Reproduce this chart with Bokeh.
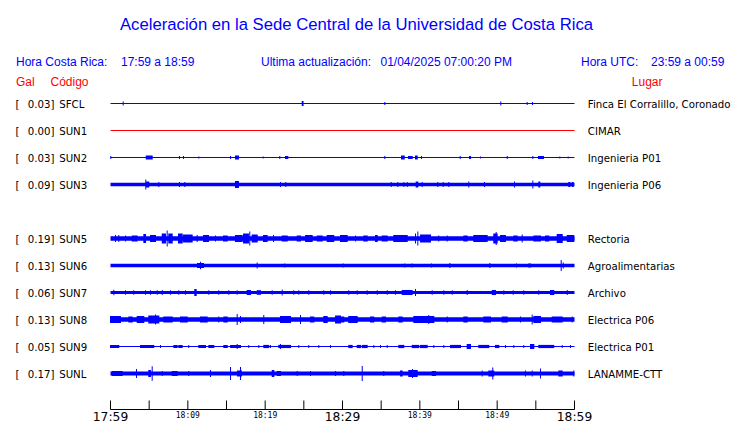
from bokeh.plotting import figure
from bokeh.models import Range1d, ColumnDataSource
from bokeh.core.properties import value
from bokeh.embed import file_html
from bokeh.resources import INLINE

# ---------------- data ----------------
TITLE = "Aceleración en la Sede Central de la Universidad de Costa Rica"
LOCAL_LABEL = "Hora Costa Rica:"
LOCAL_RANGE = "17:59 a 18:59"
UPDATE_LABEL = "Ultima actualización:"
UPDATE_TIME = "01/04/2025 07:00:20 PM"
UTC_LABEL = "Hora UTC:"
UTC_RANGE = "23:59 a 00:59"
HDR_GAL, HDR_CODE, HDR_PLACE = "Gal", "Código", "Lugar"

# row slots (empty string = unused slot)
CODES = ["SFCL", "SUN1", "SUN2", "SUN3", "", "SUN5", "SUN6", "SUN7", "SUN8", "SUN9", "SUNL"]
PEAK_GAL = [0.03, 0.00, 0.03, 0.09, None, 0.19, 0.13, 0.06, 0.13, 0.05, 0.17]
PLACES = ["Finca El Corralillo, Coronado", "CIMAR", "Ingenieria P01", "Ingenieria P06", "",
          "Rectoria", "Agroalimentarias", "Archivo", "Electrica P06", "Electrica P01", "LANAMME-CTT"]
TRACE_COLORS = ["blue", "red", "blue", "blue", None, "blue", "blue", "blue", "blue", "blue", "blue"]
# background trace half-amplitude (display units)
BASE_AMP = [0.5, 0.5, 0.5, 1.7, None, 2.3, 1.7, 1.6, 2.3, 0.6, 1.9]

# bursts: (start minute, end minute, half amplitude)
B_SFCL = [(1.64, 1.64, 2), (24.79, 24.9, 2.5), (35.47, 35.47, 1.5), (50.47, 50.47, 2),
          (53.88, 53.88, 1.5), (54.57, 54.57, 1.5)]
B_SUN1 = []
B_SUN2 = [(0.04, 0.04, 1.5), (4.62, 5.39, 2), (8.92, 8.92, 1.5), (9.44, 9.44, 1.5), (11.42, 11.42, 1),
          (15.52, 15.52, 1.5), (16.16, 16.55, 2), (19.74, 19.74, 1), (21.89, 21.89, 1.5),
          (22.63, 22.93, 1.5), (35.47, 35.47, 1.5), (37.63, 37.98, 2), (38.53, 39.01, 1.5),
          (39.44, 39.66, 2), (40.22, 40.22, 1.5), (45.22, 45.22, 1.5), (46.42, 46.55, 1.5),
          (47.84, 47.84, 1), (51.3, 51.3, 1.5), (54.61, 54.61, 1.5), (55.34, 55.99, 1.5),
          (58.1, 58.1, 1), (59.18, 59.18, 1)]
B_SUN3 = [(4.56, 4.56, 5), (4.66, 4.95, 3), (6.25, 6.25, 2.5), (8.92, 8.92, 2.5), (9.61, 9.61, 2.5),
          (16.16, 16.55, 3.5), (21.98, 21.98, 2.5), (22.67, 22.67, 2.5), (36.3, 36.3, 2.5),
          (37.15, 37.15, 2.5), (37.93, 37.93, 2.5), (38.37, 38.37, 2.5), (39.53, 39.74, 3),
          (40.31, 40.31, 2.5), (42.32, 42.32, 2.5), (43.02, 43.02, 2.5), (43.75, 43.75, 2.5),
          (46.33, 46.33, 3), (48.36, 48.36, 2.5), (52.24, 52.24, 3), (54.61, 54.61, 4),
          (55.38, 55.51, 3), (59.26, 59.4, 2.5), (59.7, 59.83, 2.5)]
B_SUN5 = [(0.65, 0.65, 3.5), (1.07, 1.07, 3.5), (1.94, 1.94, 3), (2.81, 3.45, 3), (4.31, 4.53, 4.5),
          (5.17, 5.82, 3.5), (6.69, 7.11, 5), (7.33, 7.33, 8), (7.54, 7.98, 5), (8.79, 9.27, 5),
          (9.44, 10.56, 4), (11.21, 11.21, 3.5), (12.03, 12.67, 3.5), (13.58, 13.58, 3),
          (14.61, 15.09, 3), (16.16, 17.03, 3.5), (17.2, 17.84, 5), (18.01, 18.01, 7),
          (18.32, 18.97, 4), (19.78, 20.26, 3.5), (21.08, 21.08, 3.5), (22.2, 22.85, 3),
          (24.14, 24.57, 3), (25.22, 26.08, 3.5), (26.73, 27.38, 3), (28.02, 28.87, 3.5),
          (29.74, 30.61, 3.5), (31.68, 31.68, 3), (32.75, 33.2, 3), (34.27, 34.49, 3.5),
          (35.13, 35.78, 3), (36.63, 38.37, 3.5), (39.44, 39.44, 5), (39.74, 39.74, 7),
          (40.09, 41.38, 4), (42.45, 42.45, 3), (43.54, 43.54, 3), (45.69, 46.12, 3),
          (46.98, 48.71, 3.5), (49.56, 50.0, 5), (49.87, 49.87, 6.5), (50.43, 51.08, 3.5),
          (52.15, 52.59, 3), (53.24, 53.24, 4), (54.74, 55.6, 3), (56.25, 56.68, 3),
          (57.76, 58.41, 4.5), (59.06, 59.91, 3.5)]
B_SUN6 = [(11.25, 12.03, 2.5), (11.64, 11.64, 3.7), (18.97, 18.97, 3), (22.54, 22.54, 2),
          (30.09, 30.09, 2), (38.06, 38.06, 2), (39.01, 39.01, 2), (41.51, 41.51, 2),
          (43.88, 43.88, 2.5), (49.05, 49.05, 2.5), (52.5, 52.5, 2), (54.09, 54.31, 2),
          (58.28, 58.28, 5.5), (58.54, 58.54, 3)]
B_SUN7 = [(0.43, 0.43, 2.8), (1.94, 1.94, 2.3), (3.01, 3.01, 2.3), (4.53, 4.53, 2.3), (5.17, 5.17, 2.3),
          (6.04, 6.04, 2.3), (6.69, 6.69, 2.5), (7.76, 7.76, 2.3), (8.83, 8.83, 2.3), (9.7, 9.7, 2.3),
          (10.9, 11.08, 3.5), (12.71, 12.71, 2.3), (14.0, 14.0, 2.3), (15.3, 15.3, 2.3),
          (16.38, 16.38, 2.3), (17.68, 18.1, 2.5), (18.97, 19.4, 2.3), (20.91, 20.91, 2.3),
          (22.2, 22.2, 3), (23.7, 23.7, 2.3), (24.35, 24.35, 2.3), (25.64, 25.64, 2.3),
          (27.58, 27.58, 2.3), (28.45, 28.45, 2.3), (30.81, 30.81, 2.3), (31.9, 31.9, 2.3),
          (33.19, 33.19, 2.3), (34.49, 34.49, 2.3), (35.78, 35.78, 2.3), (36.85, 36.85, 2.3),
          (37.72, 39.01, 2.5), (39.44, 39.44, 3.5), (41.6, 41.6, 2.3), (43.1, 43.1, 2.3),
          (44.19, 44.19, 2.3), (46.12, 46.12, 2.5), (49.36, 49.78, 2.5), (50.86, 50.86, 2.3),
          (52.07, 52.07, 2.3), (53.44, 53.44, 2.3), (55.38, 55.38, 2.3), (56.9, 57.32, 2.5),
          (59.06, 59.06, 2.5)]
B_SUN8 = [(0.0, 1.29, 3.5), (2.37, 2.81, 3), (3.45, 4.31, 3.5), (4.95, 6.25, 4), (5.82, 5.82, 5),
          (6.89, 7.98, 3), (9.05, 9.92, 3), (11.64, 12.5, 3), (14.0, 14.0, 3), (14.65, 15.09, 3),
          (16.38, 16.38, 5.5), (16.81, 16.81, 3.5), (19.82, 19.82, 4.5), (21.98, 23.28, 3.5),
          (24.57, 24.57, 4.5), (25.86, 26.29, 3), (27.58, 28.02, 3.5), (29.1, 29.74, 4),
          (29.74, 30.17, 3), (30.81, 31.9, 3.5), (33.62, 34.05, 3), (35.13, 35.56, 3),
          (37.28, 37.72, 3), (39.22, 41.81, 3.5), (41.16, 41.16, 4.5), (43.54, 43.54, 3),
          (45.69, 46.12, 3), (48.27, 49.14, 3), (50.65, 51.3, 3), (53.02, 53.02, 3),
          (54.53, 54.53, 5), (54.74, 55.6, 3.5), (57.12, 58.41, 3), (59.7, 59.7, 3)]
B_SUN9 = [(0.0, 1.07, 1.6), (3.88, 5.6, 1.6), (6.47, 6.47, 1.6), (8.19, 8.62, 1.6), (8.83, 9.27, 1.6),
          (10.12, 10.12, 1.6), (11.42, 12.28, 1.6), (12.71, 13.36, 1.6), (14.65, 15.09, 1.6),
          (15.52, 16.81, 1.6), (16.38, 16.38, 2.5), (17.88, 17.88, 1.6), (19.18, 19.18, 1.6),
          (19.82, 20.47, 1.6), (20.69, 20.69, 1.6), (21.76, 23.28, 1.6), (21.98, 21.98, 2.5),
          (24.35, 24.35, 1.6), (25.64, 25.64, 1.6), (26.94, 26.94, 1.6), (28.45, 28.45, 1.6),
          (30.81, 31.25, 1.6), (31.9, 32.33, 1.6), (32.55, 33.19, 1.6), (34.05, 34.05, 1.6),
          (34.91, 34.91, 1.6), (35.78, 35.78, 1.6), (37.28, 37.93, 1.6), (39.01, 39.87, 1.6),
          (40.09, 40.95, 1.6), (41.81, 41.81, 1.6), (43.1, 43.1, 1.6), (43.97, 45.26, 1.6),
          (46.12, 46.55, 2.5), (47.62, 48.92, 1.6), (49.78, 50.22, 1.6), (51.08, 51.08, 1.6),
          (52.15, 52.15, 1.6), (53.44, 53.44, 1.6), (54.31, 54.74, 2.5), (55.38, 57.32, 1.6),
          (58.41, 58.41, 1.6), (59.48, 59.48, 1.6)]
B_SUNL = [(0.22, 1.51, 2.5), (3.36, 3.36, 4.5), (4.95, 5.17, 3.5), (5.39, 5.39, 7.3), (6.69, 6.69, 2.5),
          (7.98, 8.62, 2.5), (10.12, 10.12, 2.5), (12.93, 12.93, 3.5), (15.52, 15.52, 6.5),
          (16.42, 16.94, 3), (16.81, 16.81, 6.5), (20.91, 21.12, 3.5), (21.56, 21.98, 2.5),
          (24.14, 24.14, 2.5), (25.86, 25.86, 2.5), (29.1, 29.1, 2.5), (30.17, 30.17, 2.5),
          (32.55, 32.55, 7.5), (35.34, 35.34, 2.5), (37.5, 37.72, 3), (38.57, 39.66, 3.5),
          (39.05, 39.05, 4.5), (41.6, 42.03, 2.5), (48.06, 48.06, 3), (48.92, 49.56, 3),
          (49.43, 49.43, 6), (53.66, 53.66, 3), (54.53, 54.53, 3), (55.6, 55.6, 5),
          (57.97, 58.41, 3), (59.91, 59.91, 3)]
BURSTS = [B_SFCL, B_SUN1, B_SUN2, B_SUN3, None, B_SUN5, B_SUN6, B_SUN7, B_SUN8, B_SUN9, B_SUNL]

SPAN_MIN = 60
TICK_MIN = [0, 5, 10, 15, 20, 25, 30, 35, 40, 45, 50, 55, 60]
MAJOR_TICK_MIN = [0, 30, 60]
MAJOR_TICK_LABELS = ["17:59", "18:29", "18:59"]
MINOR_TICK_MIN = [10, 20, 40, 50]
MINOR_TICK_LABELS = ["18:09", "18:19", "18:39", "18:49"]

# ---------------- layout ----------------
W, H = 740, 423
PLOT_LEFT, PLOT_RIGHT = 110, 574          # page px of minute 0 / minute 60
PXM = (PLOT_RIGHT - PLOT_LEFT) / SPAN_MIN
BASE_FIX = 0.3                            # baseline correction (fraction of font size)


def xm(px):  # page x pixel -> minutes (for text placement)
    return (px - PLOT_LEFT) / PXM


def yb(baseline, size):  # wanted baseline -> text y
    return baseline - BASE_FIX * size


ROW0, ROW_STEP = 103, 27
AXIS_Y, TICK_LEN = 409, 9

p = figure(width=W, height=H, output_backend="svg", toolbar_location=None,
           x_range=Range1d(xm(0), xm(W)), y_range=Range1d(H, 0),
           x_axis_location=None, y_axis_location=None, min_border=0,
           background_fill_color="white", border_fill_color="white")
p.grid.visible = False
p.outline_line_color = None

# traces
bx, bw, by, bh, bc = [], [], [], [], []
for i, code in enumerate(CODES):
    if not code:
        continue
    yc = ROW0 + ROW_STEP * i
    col = TRACE_COLORS[i]
    bx.append(SPAN_MIN / 2); bw.append(SPAN_MIN); by.append(yc); bh.append(2 * BASE_AMP[i]); bc.append(col)
    for t0, t1, a in BURSTS[i]:
        w = (t1 - t0) + 1.0 / PXM
        bx.append((t0 + t1) / 2); bw.append(w); by.append(yc); bh.append(2 * a); bc.append(col)
p.rect(x="x", y="y", width="w", height="h", color="c", line_width=0, line_color=None,
       source=ColumnDataSource(dict(x=bx, y=by, w=bw, h=bh, c=bc)))

SANS = value("Liberation Sans")
DJ = value("DejaVu Sans")

# title and header
p.text(x=[xm(356)], y=[yb(29.3, 16.7)], text=[TITLE], text_font=SANS, text_font_size="16.7px",
       text_color="blue", text_align="center", text_baseline="alphabetic")
p.text(x=[xm(15.5), xm(120.5), xm(260.5), xm(380), xm(580.5), xm(650.5)], y=[yb(65, 12)] * 6,
       text=[LOCAL_LABEL, LOCAL_RANGE, UPDATE_LABEL, UPDATE_TIME, UTC_LABEL, UTC_RANGE],
       text_font=SANS, text_font_size="12px", text_color="blue", text_baseline="alphabetic")
p.text(x=[xm(15.5), xm(50)], y=[yb(85, 12)] * 2, text=[HDR_GAL, HDR_CODE], text_font=SANS,
       text_font_size="12px", text_color="red", text_baseline="alphabetic")
p.text(x=[xm(662)], y=[yb(85, 12)], text=[HDR_PLACE], text_font=SANS, text_font_size="12px",
       text_color="red", text_align="right", text_baseline="alphabetic")

# row labels
ly, tb, tv, tc, tp = [], [], [], [], []
for i, code in enumerate(CODES):
    if not code:
        continue
    ly.append(yb(ROW0 + ROW_STEP * i + 3.7, 10.2))
    tb.append("[")
    tv.append(f"{PEAK_GAL[i]:.2f}]")
    tc.append(code)
    tp.append(PLACES[i])
n = len(ly)
for xs, txt in ((15, tb), (27.3, tv), (58.7, tc), (587.3, tp)):
    p.text(x=[xm(xs)] * n, y=ly, text=txt, text_font=DJ, text_font_size="10.2px",
           text_color="black", text_baseline="alphabetic")

# time axis
p.segment(x0=[0], y0=[AXIS_Y], x1=[SPAN_MIN], y1=[AXIS_Y], line_color="black", line_width=1)
p.segment(x0=TICK_MIN, y0=[AXIS_Y] * len(TICK_MIN), x1=TICK_MIN, y1=[AXIS_Y - TICK_LEN] * len(TICK_MIN),
          line_color="black", line_width=1)
p.text(x=MAJOR_TICK_MIN, y=[yb(AXIS_Y + 10.8, 12.3)] * 3, text=MAJOR_TICK_LABELS, text_font=DJ,
       text_font_size="12.3px", text_color="black", text_align="center", text_baseline="alphabetic")
p.text(x=MINOR_TICK_MIN, y=[yb(AXIS_Y + 8.7, 8)] * 4, text=MINOR_TICK_LABELS,
       text_font=value("DejaVu Sans Mono"), text_font_size="8px", text_color="black",
       text_align="center", text_baseline="alphabetic")

open("out.html", "w").write(file_html(p, INLINE))
